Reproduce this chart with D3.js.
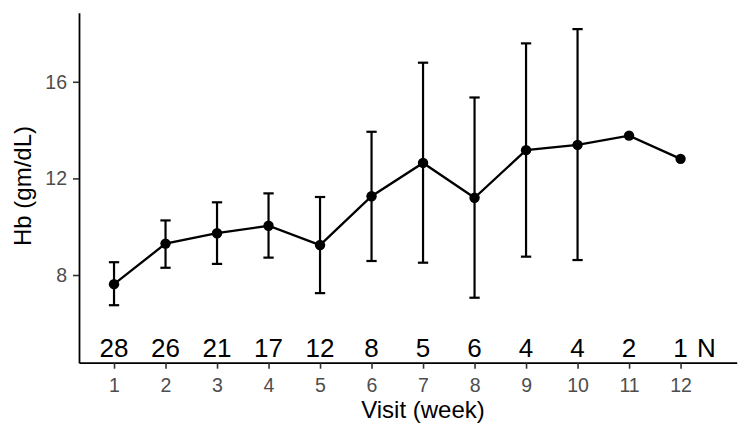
<!DOCTYPE html>
<html>
<head>
<meta charset="utf-8">
<script src="https://cdn.jsdelivr.net/npm/d3@7"></script>
<style>
  body { margin: 0; background: #fff; }
  svg { display: block; font-family: "Liberation Sans", Arial, sans-serif; }
</style>
</head>
<body>
<svg id="chart" width="750" height="439"></svg>
<script>
// visit (week) and mean Hb with error bar limits
var visits = [1, 2, 3, 4, 5, 6, 7, 8, 9, 10, 11, 12];
var hbMean = [7.62, 9.30, 9.73, 10.04, 9.24, 11.26, 12.64, 11.20, 13.17, 13.39, 13.77, 12.81];
var hbLow = [6.75, 8.30, 8.46, 8.72, 7.25, 8.58, 8.51, 7.06, 8.76, 8.62, null, null];
var hbHigh = [8.53, 10.26, 11.01, 11.38, 11.23, 13.93, 16.79, 15.35, 17.59, 18.18, null, null];
var nCounts = [28, 26, 21, 17, 12, 8, 5, 6, 4, 4, 2, 1];
var yTicks = [8, 12, 16];
var nLabelY = 5;

var svg = d3.select("#chart");
var plotLeft = 79, plotRight = 736.7, plotTop = 12.7, plotBottom = 362.7;

var x = d3.scaleLinear().domain([0.32, 13.09]).range([plotLeft, plotRight]);
var y = d3.scaleLinear().domain([4.37, 18.86]).range([plotBottom, plotTop]);

var rows = visits.map(function(v, i) {
  return { visit: v, mean: hbMean[i], lo: hbLow[i], hi: hbHigh[i], n: nCounts[i] };
});

// error bars
var capHalf = 0.1;
var bars = svg.append("g")
  .selectAll("g")
  .data(rows.filter(function(d) { return d.lo !== null; }))
  .enter().append("g")
  .attr("stroke", "#000")
  .attr("stroke-width", 2.2);
bars.append("line")
  .attr("x1", function(d) { return x(d.visit); })
  .attr("x2", function(d) { return x(d.visit); })
  .attr("y1", function(d) { return y(d.lo); })
  .attr("y2", function(d) { return y(d.hi); });
bars.append("line")
  .attr("x1", function(d) { return x(d.visit - capHalf); })
  .attr("x2", function(d) { return x(d.visit + capHalf); })
  .attr("y1", function(d) { return y(d.hi); })
  .attr("y2", function(d) { return y(d.hi); });
bars.append("line")
  .attr("x1", function(d) { return x(d.visit - capHalf); })
  .attr("x2", function(d) { return x(d.visit + capHalf); })
  .attr("y1", function(d) { return y(d.lo); })
  .attr("y2", function(d) { return y(d.lo); });

// mean line and points
var line = d3.line()
  .x(function(d) { return x(d.visit); })
  .y(function(d) { return y(d.mean); });
svg.append("path")
  .datum(rows)
  .attr("d", line)
  .attr("fill", "none")
  .attr("stroke", "#000")
  .attr("stroke-width", 2.3);
svg.append("g")
  .selectAll("circle")
  .data(rows)
  .enter().append("circle")
  .attr("cx", function(d) { return x(d.visit); })
  .attr("cy", function(d) { return y(d.mean); })
  .attr("r", 5.2)
  .attr("fill", "#000");

// N labels along the bottom
svg.append("g")
  .selectAll("text")
  .data(rows)
  .enter().append("text")
  .attr("x", function(d) { return x(d.visit); })
  .attr("y", y(nLabelY))
  .attr("dy", "0.36em")
  .attr("text-anchor", "middle")
  .attr("font-size", 26)
  .attr("fill", "#000")
  .text(function(d) { return d.n; });
svg.append("text")
  .attr("x", x(12.5))
  .attr("y", y(nLabelY))
  .attr("dy", "0.36em")
  .attr("text-anchor", "middle")
  .attr("font-size", 26)
  .attr("fill", "#000")
  .text("N");

// axes
var xAxis = svg.append("g")
  .attr("transform", "translate(0," + plotBottom + ")")
  .call(d3.axisBottom(x).tickValues(visits).tickSize(6).tickSizeOuter(0).tickFormat(d3.format("d")));
xAxis.select(".domain").attr("stroke", "#000").attr("stroke-width", 1.8);
xAxis.selectAll(".tick line").attr("stroke", "#333").attr("stroke-width", 1.6);
xAxis.selectAll(".tick text")
  .attr("y", 29)
  .attr("dy", 0)
  .attr("font-size", 19.5)
  .attr("font-family", "Liberation Sans, Arial, sans-serif")
  .attr("fill", "#4d4d4d");

var yAxis = svg.append("g")
  .attr("transform", "translate(" + plotLeft + ",0)")
  .call(d3.axisLeft(y).tickValues(yTicks).tickSize(6).tickSizeOuter(0).tickPadding(6));
yAxis.select(".domain").attr("stroke", "#000").attr("stroke-width", 1.8);
yAxis.selectAll(".tick line").attr("stroke", "#333").attr("stroke-width", 1.6);
yAxis.selectAll(".tick text")
  .attr("font-size", 19.5)
  .attr("font-family", "Liberation Sans, Arial, sans-serif")
  .attr("fill", "#4d4d4d");

// titles
svg.append("text")
  .attr("x", 423)
  .attr("y", 418)
  .attr("text-anchor", "middle")
  .attr("font-size", 24)
  .attr("fill", "#000")
  .text("Visit (week)");
svg.append("text")
  .attr("transform", "translate(31,186) rotate(-90)")
  .attr("text-anchor", "middle")
  .attr("font-size", 24)
  .attr("fill", "#000")
  .text("Hb (gm/dL)");
</script>
</body>
</html>
